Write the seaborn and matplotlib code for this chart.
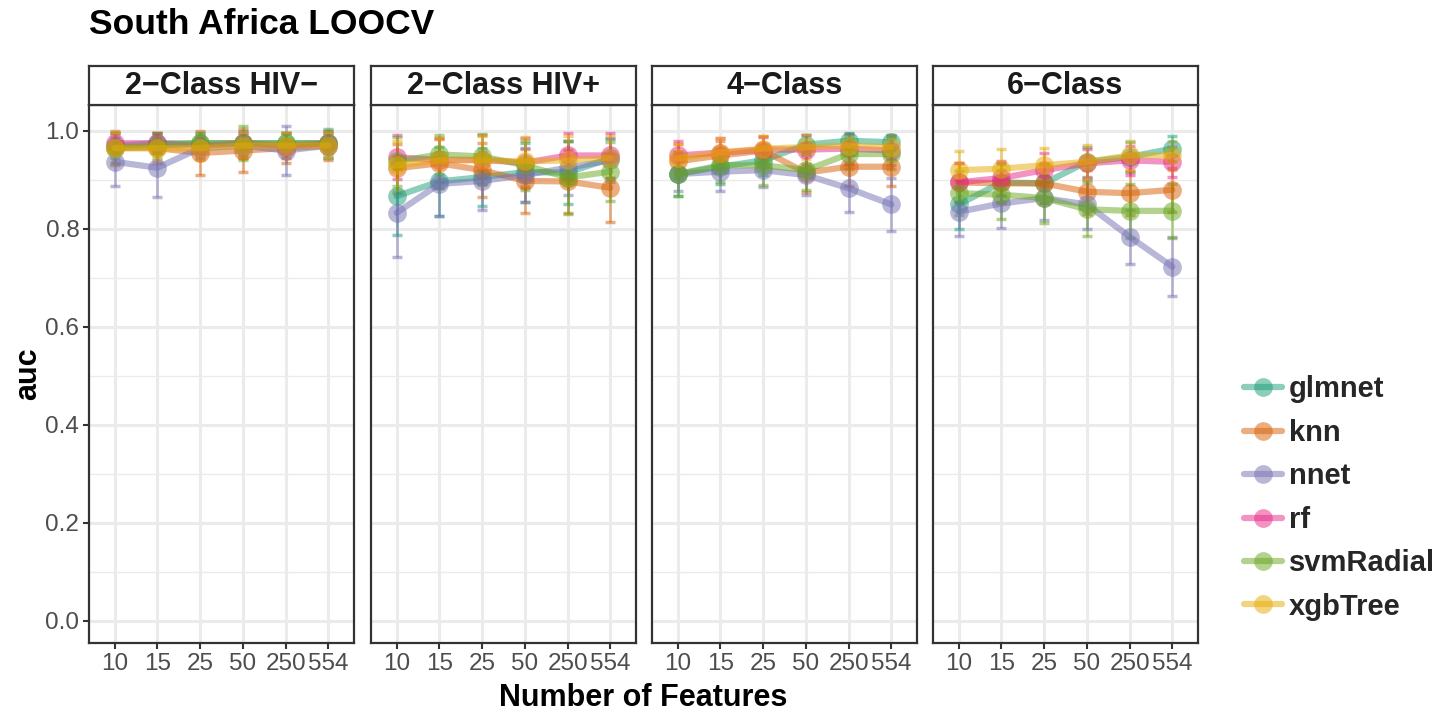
import matplotlib
matplotlib.use("Agg")
import matplotlib.pyplot as plt
import seaborn as sns
import pandas as pd
import numpy as np
from matplotlib.lines import Line2D

# ---------------- data ----------------
features = ["10", "15", "25", "50", "250", "554"]
panels = ["2\u2212Class HIV\u2212", "2\u2212Class HIV+", "4\u2212Class", "6\u2212Class"]
models = ["glmnet", "knn", "nnet", "rf", "svmRadial", "xgbTree"]
colors = ["#1B9E77", "#D95F02", "#7570B3", "#E7298A", "#66A61E", "#E6AB02"]

auc_hiv_neg = {
    "glmnet":    [0.970, 0.975, 0.975, 0.975, 0.975, 0.975],
    "knn":       [0.965, 0.965, 0.955, 0.960, 0.965, 0.970],
    "nnet":      [0.937, 0.925, 0.965, 0.970, 0.960, 0.970],
    "rf":        [0.975, 0.975, 0.970, 0.975, 0.970, 0.975],
    "svmRadial": [0.965, 0.970, 0.975, 0.975, 0.975, 0.975],
    "xgbTree":   [0.965, 0.965, 0.965, 0.970, 0.970, 0.970],
}
err_hiv_neg = {
    "glmnet":    [0.025, 0.020, 0.020, 0.025, 0.020, 0.030],
    "knn":       [0.035, 0.030, 0.045, 0.043, 0.030, 0.030],
    "nnet":      [0.050, 0.060, 0.020, 0.025, 0.050, 0.025],
    "rf":        [0.020, 0.020, 0.020, 0.020, 0.025, 0.020],
    "svmRadial": [0.030, 0.025, 0.020, 0.035, 0.020, 0.025],
    "xgbTree":   [0.030, 0.025, 0.025, 0.025, 0.025, 0.025],
}

auc_hiv_pos = {
    "glmnet":    [0.867, 0.897, 0.906, 0.916, 0.915, 0.944],
    "knn":       [0.924, 0.934, 0.920, 0.898, 0.897, 0.884],
    "nnet":      [0.833, 0.892, 0.898, 0.910, 0.925, 0.940],
    "rf":        [0.946, 0.941, 0.941, 0.935, 0.950, 0.950],
    "svmRadial": [0.938, 0.952, 0.948, 0.930, 0.905, 0.917],
    "xgbTree":   [0.930, 0.940, 0.940, 0.938, 0.940, 0.945],
}
err_hiv_pos = {
    "glmnet":    [0.080, 0.070, 0.060, 0.060, 0.065, 0.040],
    "knn":       [0.050, 0.050, 0.055, 0.065, 0.065, 0.070],
    "nnet":      [0.090, 0.065, 0.060, 0.055, 0.055, 0.045],
    "rf":        [0.045, 0.045, 0.050, 0.050, 0.045, 0.045],
    "svmRadial": [0.050, 0.040, 0.045, 0.050, 0.075, 0.060],
    "xgbTree":   [0.050, 0.045, 0.050, 0.050, 0.050, 0.045],
}

auc_4class = {
    "glmnet":    [0.912, 0.927, 0.940, 0.972, 0.980, 0.977],
    "knn":       [0.938, 0.950, 0.960, 0.915, 0.927, 0.927],
    "nnet":      [0.912, 0.917, 0.920, 0.910, 0.883, 0.850],
    "rf":        [0.950, 0.956, 0.962, 0.962, 0.964, 0.960],
    "svmRadial": [0.912, 0.930, 0.930, 0.920, 0.953, 0.953],
    "xgbTree":   [0.944, 0.956, 0.964, 0.967, 0.970, 0.967],
}
err_4class = {
    "glmnet":    [0.045, 0.035, 0.030, 0.020, 0.015, 0.015],
    "knn":       [0.035, 0.030, 0.030, 0.040, 0.040, 0.040],
    "nnet":      [0.035, 0.040, 0.035, 0.040, 0.048, 0.055],
    "rf":        [0.030, 0.030, 0.025, 0.030, 0.030, 0.030],
    "svmRadial": [0.045, 0.035, 0.040, 0.040, 0.030, 0.030],
    "xgbTree":   [0.030, 0.030, 0.025, 0.025, 0.020, 0.025],
}

auc_6class = {
    "glmnet":    [0.850, 0.895, 0.893, 0.937, 0.947, 0.964],
    "knn":       [0.895, 0.893, 0.893, 0.876, 0.873, 0.880],
    "nnet":      [0.835, 0.852, 0.863, 0.850, 0.784, 0.723],
    "rf":        [0.895, 0.904, 0.920, 0.934, 0.940, 0.937],
    "svmRadial": [0.873, 0.870, 0.863, 0.840, 0.837, 0.837],
    "xgbTree":   [0.920, 0.923, 0.930, 0.937, 0.950, 0.950],
}
err_6class = {
    "glmnet":    [0.050, 0.040, 0.040, 0.030, 0.030, 0.025],
    "knn":       [0.040, 0.040, 0.040, 0.045, 0.045, 0.045],
    "nnet":      [0.050, 0.050, 0.045, 0.050, 0.055, 0.060],
    "rf":        [0.040, 0.035, 0.035, 0.030, 0.030, 0.030],
    "svmRadial": [0.045, 0.050, 0.050, 0.055, 0.055, 0.055],
    "xgbTree":   [0.040, 0.040, 0.035, 0.035, 0.030, 0.030],
}

auc_sets = [auc_hiv_neg, auc_hiv_pos, auc_4class, auc_6class]
err_sets = [err_hiv_neg, err_hiv_pos, err_4class, err_6class]

# ---------------- style ----------------
sns.set_theme(style="white")
plt.rcParams["font.family"] = ["Liberation Sans", "DejaVu Sans"]

W, H = 1455, 715
fig = plt.figure(figsize=(W / 100, H / 100), dpi=100)

panel_left = [89, 371, 652, 933]
panel_w = 265
top_px, bot_px = 105, 643
strip_top = 66
palette = dict(zip(models, colors))

for i, (pname, aucs, errs) in enumerate(zip(panels, auc_sets, err_sets)):
    x0 = panel_left[i]
    ax = fig.add_axes([x0 / W, 1 - bot_px / H, panel_w / W, (bot_px - top_px) / H])
    rows = []
    for m in models:
        for j, f in enumerate(features):
            rows.append({"pos": j, "feature": f, "model": m, "auc": aucs[m][j], "err": errs[m][j]})
    df = pd.DataFrame(rows)

    # grid
    ax.set_axisbelow(True)
    for yv in np.arange(0.1, 1.01, 0.2):
        ax.axhline(yv, color="#EBEBEB", lw=1.0, zorder=0)
    for yv in np.arange(0.0, 1.01, 0.2):
        ax.axhline(yv, color="#EBEBEB", lw=2.2, zorder=0)
    for xv in range(len(features)):
        ax.axvline(xv, color="#EBEBEB", lw=2.2, zorder=0)

    for m in models:
        sub = df[df["model"] == m]
        ax.errorbar(sub["pos"], sub["auc"], yerr=sub["err"], fmt="none",
                    ecolor=palette[m], alpha=0.5, elinewidth=1.8, capsize=3.5,
                    capthick=2.5, zorder=2)

    sns.lineplot(data=df, x="pos", y="auc", hue="model", hue_order=models,
                 palette=palette, marker="o", markersize=13.5, markeredgewidth=0,
                 linewidth=4.5, alpha=0.5, legend=False, sort=False,
                 errorbar=None, ax=ax, zorder=3)

    ax.set_xlim(-0.6, len(features) - 0.4)
    ax.set_ylim(-0.045, 1.053)
    ax.set_xticks(range(len(features)))
    ax.set_xticklabels(features)
    ax.set_yticks(np.arange(0, 1.01, 0.2))
    ax.set_xlabel("")
    ax.set_ylabel("")
    ax.tick_params(axis="x", length=4, width=1.5, color="#333333",
                   labelsize=17.5, labelcolor="#4D4D4D", pad=3, bottom=True)
    if i == 0:
        ax.set_yticklabels([f"{v:.1f}" for v in np.arange(0, 1.01, 0.2)])
        ax.tick_params(axis="y", length=4, width=1.5, color="#333333",
                       labelsize=17.5, labelcolor="#4D4D4D", pad=3, left=True)
    else:
        ax.set_yticklabels([])
        ax.tick_params(axis="y", length=0, left=False)
    for sp in ax.spines.values():
        sp.set_color("#333333")
        sp.set_linewidth(1.6)

    # strip
    sax = fig.add_axes([x0 / W, 1 - top_px / H, panel_w / W, (top_px - strip_top) / H])
    sax.set_facecolor("white")
    sax.set_xticks([])
    sax.set_yticks([])
    for sp in sax.spines.values():
        sp.set_color("#333333")
        sp.set_linewidth(1.6)
    sax.text(0.5, 0.5, pname, ha="center", va="center", fontsize=22,
             fontweight="bold", color="#1A1A1A", transform=sax.transAxes)

# title and axis labels
fig.text(89 / W, 1 - 24 / H, "South Africa LOOCV", fontsize=25.5,
         fontweight="bold", ha="left", va="center", color="black")
fig.text(643 / W, 1 - 698 / H, "Number of Features", fontsize=22,
         fontweight="bold", ha="center", va="center", color="black")
fig.text(28 / W, 1 - 374 / H, "auc", fontsize=22, fontweight="bold",
         rotation=90, ha="center", va="center", color="black")

# legend
handles = [Line2D([0], [0], color=c, lw=4.5, marker="o", markersize=13.5,
                  markeredgewidth=0, alpha=0.5) for c in colors]
leg = fig.legend(handles, models, loc="center left",
                 bbox_to_anchor=(1244 / W, 1 - 498 / H), frameon=False,
                 prop={"size": 21, "weight": "bold"}, handlelength=1.3,
                 handletextpad=0.25, labelspacing=0.53, borderaxespad=0,
                 borderpad=0)

fig.savefig("out.png", dpi=100)
